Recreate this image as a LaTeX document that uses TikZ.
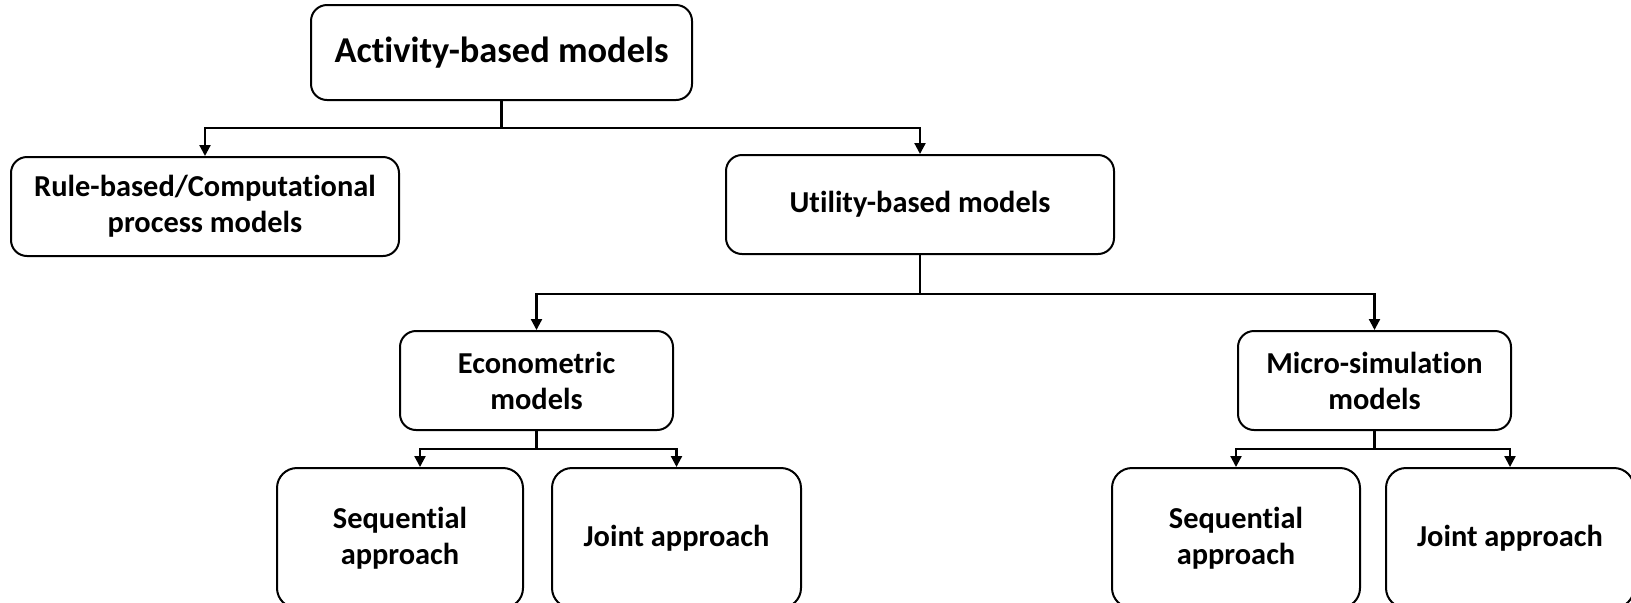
\documentclass[tikz,border=0pt]{standalone}
\usepackage{fontspec}
\setsansfont{Carlito}[Ligatures={NoCommon}]
\usetikzlibrary{positioning, arrows.meta}

\begin{document}
\begin{tikzpicture}[
    box/.style={rectangle, draw, rounded corners=8pt, line width=1pt, align=center, inner sep=0pt, minimum height=49.5pt, font=\sffamily\bfseries\fontsize{15.2}{18}\selectfont},
    top/.style={box, minimum width=190.5pt, minimum height=47.5pt, font=\sffamily\bfseries\fontsize{18.2}{21}\selectfont},
    wide/.style={box, minimum width=194pt},
    mid/.style={box, minimum width=136.5pt},
    leaf/.style={box, minimum width=124pt, minimum height=70pt, rounded corners=10pt},
    arrow/.style={-{Triangle[length=5.5pt, width=5.5pt]}, line width=1.1pt}
]
\useasboundingbox (0,0) rectangle (815.5pt,-301pt);
\clip (0,0) rectangle (815.5pt,-301pt);

% Root
\node[top] (act) at (250.75pt,-26.25pt) {Activity-based models};

% First level
\node[wide] (rule) at (102.5pt,-103.25pt) {Rule-based/Computational\\process models};
\node[wide] (util) at (460pt,-102.25pt) {Utility-based models};

\draw[arrow] (act.south) -- ++(0,-13.5pt) -| (rule.north);
\draw[arrow] (act.south) -- ++(0,-13.5pt) -| (util.north);

% Second level
\node[mid] (econ) at (268.25pt,-190.25pt) {Econometric\\models};
\node[mid, right=281.5pt of econ] (micro) {Micro-simulation\\models};

\draw[arrow] (util.south) -- ++(0,-19.5pt) -| (econ.north);
\draw[arrow] (util.south) -- ++(0,-19.5pt) -| (micro.north);

% Approaches under econometric models
\node[leaf, minimum width=123pt] (seq1) at (200pt,-269pt) {Sequential\\approach};
\node[leaf, minimum width=124.5pt, right=13.5pt of seq1] (joint1) {Joint approach};

\draw[arrow] (econ.south) -- ++(0,-9pt) -| ([xshift=10pt]seq1.north);
\draw[arrow] (econ.south) -- ++(0,-9pt) -| (joint1.north);

% Approaches under micro-simulation models
\node[leaf] (seq2) at (618pt,-269pt) {Sequential\\approach};
\node[leaf, right=12pt of seq2] (joint2) {Joint approach};

\draw[arrow] (micro.south) -- ++(0,-9pt) -| (seq2.north);
\draw[arrow] (micro.south) -- ++(0,-9pt) -| (joint2.north);

\end{tikzpicture}
\end{document}
